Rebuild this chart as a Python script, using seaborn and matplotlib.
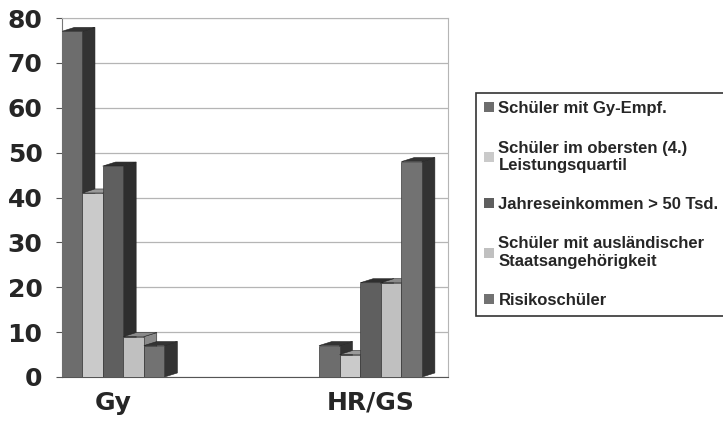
import pandas as pd
import seaborn as sns
import matplotlib.pyplot as plt
from matplotlib.patches import Polygon, Patch

# Werte
schularten = ['Gy', 'HR/GS']
gruppen = ['Schüler mit Gy-Empf.',
           'Schüler im obersten (4.)\nLeistungsquartil',
           'Jahreseinkommen > 50 Tsd.',
           'Schüler mit ausländischer\nStaatsangehörigkeit',
           'Risikoschüler']
werte_gy = [77, 41, 47, 9, 7]
werte_hrgs = [7, 5, 21, 21, 48]
farben = ['#6d6d6d', '#cacaca', '#5f5f5f', '#c0c0c0', '#727272']
seiten = ['#333333', '#9a9a9a', '#2e2e2e', '#8a8a8a', '#333333']

df = pd.DataFrame({
    'schulart': schularten * len(gruppen),
    'gruppe': [g for g in gruppen for _ in schularten],
    'wert': [w for pair in zip(werte_gy, werte_hrgs) for w in pair],
})

sns.set_style('white')
plt.rcParams['font.family'] = ['Liberation Sans', 'DejaVu Sans']

fig = plt.figure(figsize=(7.23, 4.21), dpi=100)
ax = fig.add_axes([62 / 723, 1 - 377 / 421, (448 - 62) / 723, (377 - 18) / 421])

sns.barplot(data=df, x='schulart', y='wert', hue='gruppe', hue_order=gruppen,
            palette=farben, width=0.40, dodge=True, legend=False, ax=ax,
            edgecolor='#3a3a3a', linewidth=0.5, saturation=1)

# 3D-Effekt: Seiten- und Deckflaeche aus der Balkengeometrie
dx, dy = 0.05, 0.9
bars = []
for i, cont in enumerate(ax.containers):
    for b in cont:
        bars.append((b.get_x(), b, i))
bars.sort(key=lambda t: t[0])
for k, (_, b, i) in enumerate(bars):
    x0, w, h = b.get_x(), b.get_width(), b.get_height()
    x1 = x0 + w
    z = 3 + k
    b.set_zorder(z)
    side = Polygon([(x1, 0), (x1, h), (x1 + dx, h + dy), (x1 + dx, dy)],
                   closed=True, fc=seiten[i], ec='#222222', lw=0.4, zorder=z - 0.5)
    top = Polygon([(x0, h), (x1, h), (x1 + dx, h + dy), (x0 + dx, h + dy)],
                  closed=True, fc=seiten[i], ec='#222222', lw=0.4, zorder=z - 0.5)
    ax.add_patch(side)
    ax.add_patch(top)

ax.set_ylim(0, 80)
ax.set_xlim(-0.198, 1.301)
ax.set_yticks(range(0, 81, 10))
ax.yaxis.grid(True, color='#b5b5b5', lw=0.9)
ax.set_axisbelow(True)
ax.set_xlabel('')
ax.set_ylabel('')
for s in ['top', 'right']:
    ax.spines[s].set_color('#b5b5b5')
ax.spines['left'].set_color('#777777')
ax.spines['bottom'].set_color('#555555')
ax.tick_params(axis='y', length=4, color='#555555', pad=10, left=True)
ax.tick_params(axis='x', length=0, pad=10)
for t in ax.get_yticklabels():
    t.set_fontsize(18)
    t.set_fontweight('bold')
    t.set_family('DejaVu Sans')
for t in ax.get_xticklabels():
    t.set_fontsize(18)
    t.set_fontweight('bold')
    t.set_family('DejaVu Sans')

handles = [Patch(fc=c, ec='none') for c in farben]
leg = fig.legend(handles, gruppen, loc='upper left',
                 bbox_to_anchor=(476 / 723, 1 - 93 / 421),
                 prop={'weight': 'bold', 'size': 12}, frameon=True,
                 fancybox=False, edgecolor='black', handlelength=0.55,
                 handleheight=0.55, handletextpad=0.3, labelspacing=1.45,
                 borderpad=0.5, borderaxespad=0)
leg.get_frame().set_linewidth(1.2)

fig.savefig('out.png', dpi=100)
